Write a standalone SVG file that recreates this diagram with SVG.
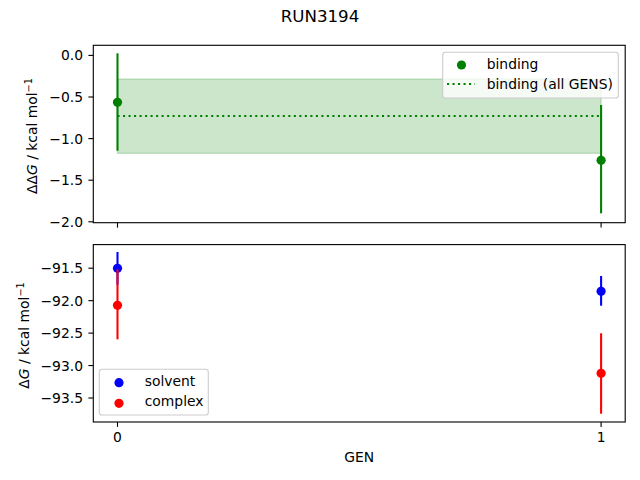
<svg xmlns="http://www.w3.org/2000/svg" width="640" height="480" viewBox="0 0 640 480">
<style>
text{font-family:"DejaVu Sans",sans-serif;font-size:13.89px;fill:#000}
.tl{text-anchor:end}
.tc{text-anchor:middle}
.spine{fill:none;stroke:#000;stroke-width:1.11}
.tick{stroke:#000;stroke-width:1.11}
.leg{fill:#fff;fill-opacity:0.8;stroke:#cccccc;stroke-width:1.1}
</style>
<rect width="640" height="480" fill="#fff"/>
<text x="320" y="22" class="tc" style="font-size:16.67px">RUN3194</text>

<g id="top-axes">
  <rect x="117.5" y="79" width="483.6" height="74.3" fill="#008000" fill-opacity="0.2" stroke="#008000" stroke-opacity="0.2" stroke-width="1.4"/>
  <line x1="117.5" y1="116" x2="601.1" y2="116" stroke="#008000" stroke-width="2.08" stroke-dasharray="2.08 3.43"/>
  <line x1="117.5" y1="53.3" x2="117.5" y2="150.7" stroke="#008000" stroke-width="2.08"/>
  <line x1="601.1" y1="105" x2="601.1" y2="213.3" stroke="#008000" stroke-width="2.08"/>
  <circle cx="117.5" cy="102.3" r="4.6" fill="#008000"/>
  <circle cx="601.1" cy="160.3" r="4.6" fill="#008000"/>
  <rect class="spine" x="93.3" y="45.3" width="531.9" height="177.4"/>
  <g class="tick">
    <line x1="88.4" y1="55.4" x2="93.3" y2="55.4"/>
    <line x1="88.4" y1="97" x2="93.3" y2="97"/>
    <line x1="88.4" y1="138.6" x2="93.3" y2="138.6"/>
    <line x1="88.4" y1="180.2" x2="93.3" y2="180.2"/>
    <line x1="88.4" y1="221.8" x2="93.3" y2="221.8"/>
    <line x1="117.5" y1="222.7" x2="117.5" y2="227.6"/>
    <line x1="601.1" y1="222.7" x2="601.1" y2="227.6"/>
  </g>
  <text class="tl" x="83" y="60.4">0.0</text>
  <text class="tl" x="83" y="102">−0.5</text>
  <text class="tl" x="83" y="143.6">−1.0</text>
  <text class="tl" x="83" y="185.2">−1.5</text>
  <text class="tl" x="83" y="226.8">−2.0</text>
  <text class="tc" transform="translate(37.3,136) rotate(-90)">ΔΔ<tspan font-style="italic">G</tspan> / kcal mol<tspan dy="-5" font-size="9.7px">−1</tspan></text>
  <g id="top-legend">
    <rect class="leg" x="442.7" y="52.3" width="175.6" height="45.7" rx="2.8"/>
    <circle cx="461.5" cy="65" r="4.6" fill="#008000"/>
    <line x1="447" y1="84" x2="475" y2="84" stroke="#008000" stroke-width="2.08" stroke-dasharray="2.08 3.43"/>
    <text x="486.7" y="69.3">binding</text>
    <text x="486.7" y="89.3">binding (all GENS)</text>
  </g>
</g>

<g id="bottom-axes">
  <line x1="117.5" y1="252" x2="117.5" y2="284.6" stroke="#0000ff" stroke-width="2.08"/>
  <line x1="601.1" y1="276" x2="601.1" y2="305.7" stroke="#0000ff" stroke-width="2.08"/>
  <circle cx="117.5" cy="268.3" r="4.6" fill="#0000ff"/>
  <circle cx="601.1" cy="291.3" r="4.6" fill="#0000ff"/>
  <line x1="117.5" y1="269.3" x2="117.5" y2="339.3" stroke="#ff0000" stroke-width="2.08"/>
  <line x1="601.1" y1="333.3" x2="601.1" y2="413.7" stroke="#ff0000" stroke-width="2.08"/>
  <circle cx="117.5" cy="305.3" r="4.6" fill="#ff0000"/>
  <circle cx="601.1" cy="373.3" r="4.6" fill="#ff0000"/>
  <rect class="spine" x="93.3" y="244.6" width="531.9" height="177.4"/>
  <g class="tick">
    <line x1="88.4" y1="268.2" x2="93.3" y2="268.2"/>
    <line x1="88.4" y1="300.65" x2="93.3" y2="300.65"/>
    <line x1="88.4" y1="333.1" x2="93.3" y2="333.1"/>
    <line x1="88.4" y1="365.55" x2="93.3" y2="365.55"/>
    <line x1="88.4" y1="398" x2="93.3" y2="398"/>
    <line x1="117.5" y1="422" x2="117.5" y2="426.9"/>
    <line x1="601.1" y1="422" x2="601.1" y2="426.9"/>
  </g>
  <text class="tl" x="83" y="273.2">−91.5</text>
  <text class="tl" x="83" y="305.65">−92.0</text>
  <text class="tl" x="83" y="338.1">−92.5</text>
  <text class="tl" x="83" y="370.55">−93.0</text>
  <text class="tl" x="83" y="403">−93.5</text>
  <text class="tc" x="117.5" y="441.7">0</text>
  <text class="tc" x="601.1" y="441.7">1</text>
  <text class="tc" x="359.3" y="462">GEN</text>
  <text class="tc" transform="translate(28.5,335.5) rotate(-90)">Δ<tspan font-style="italic">G</tspan> / kcal mol<tspan dy="-5" font-size="9.7px">−1</tspan></text>
  <g id="bottom-legend">
    <rect class="leg" x="99.3" y="369.3" width="109" height="45.7" rx="2.8"/>
    <circle cx="119" cy="382.7" r="4.6" fill="#0000ff"/>
    <circle cx="119" cy="403.3" r="4.6" fill="#ff0000"/>
    <text x="144.7" y="385.7">solvent</text>
    <text x="144.7" y="406">complex</text>
  </g>
</g>
</svg>
